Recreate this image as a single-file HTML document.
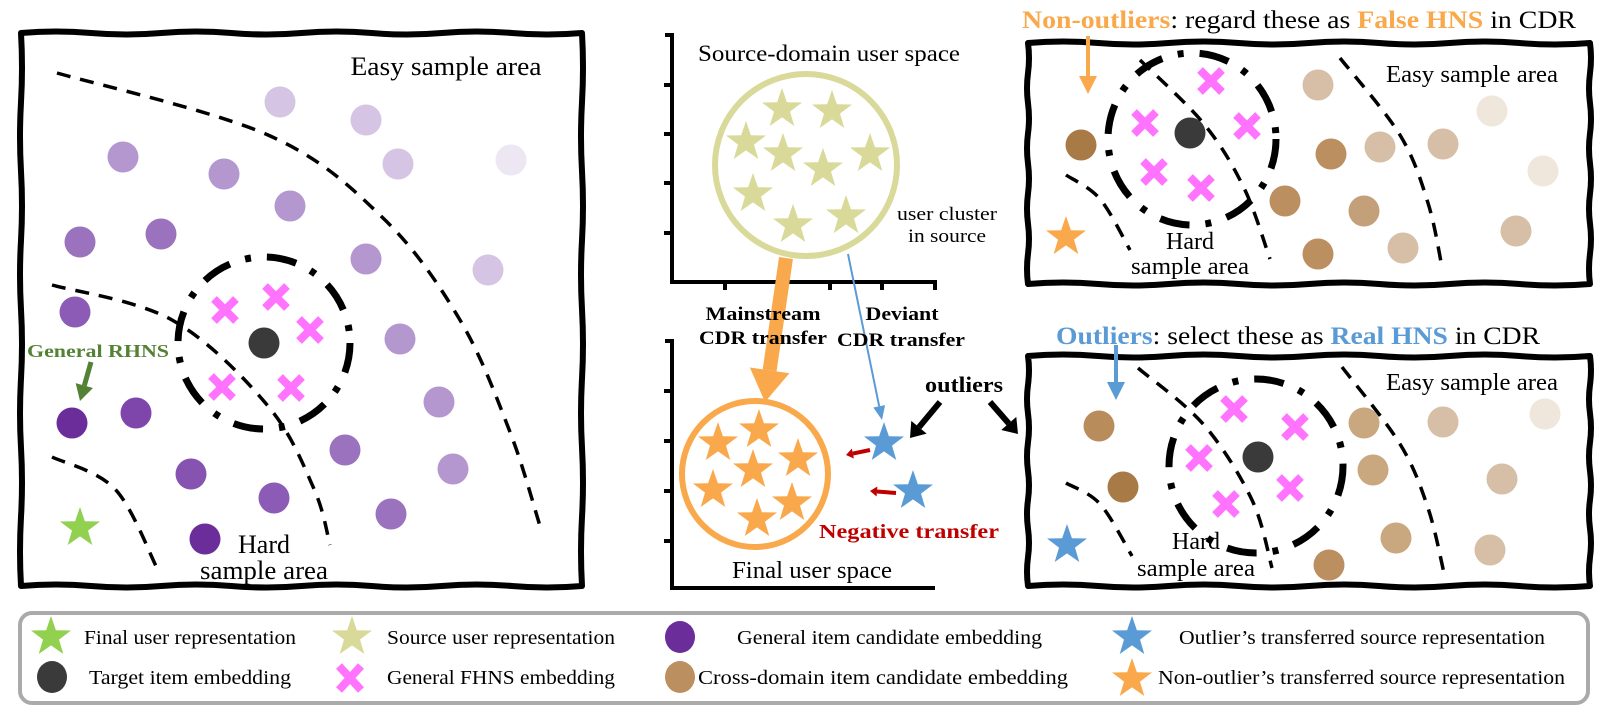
<!DOCTYPE html>
<html><head><meta charset="utf-8"><style>
html,body{margin:0;padding:0;background:#fff;}
svg, svg text{font-family:"Liberation Serif","Times New Roman",serif;}
</style></head><body>
<svg id="fig" width="1606" height="709" viewBox="0 0 1606 709" xmlns="http://www.w3.org/2000/svg" font-family="Liberation Serif, serif">
<g id="layer"></g>
<g id="texts" fill="#000" font-family="Liberation Serif, serif">
<text x="446" y="75" font-size="26" text-anchor="middle" textLength="191" lengthAdjust="spacingAndGlyphs">Easy sample area</text>
<text x="264" y="553" font-size="26" text-anchor="middle">Hard</text>
<text x="264" y="579" font-size="26" text-anchor="middle" textLength="128" lengthAdjust="spacingAndGlyphs">sample area</text>
<text x="27" y="357" font-size="18" font-weight="bold" fill="#548235" textLength="142" lengthAdjust="spacingAndGlyphs">General RHNS</text>

<text x="829" y="61" font-size="23" text-anchor="middle" textLength="262" lengthAdjust="spacingAndGlyphs">Source-domain user space</text>
<text x="947" y="220" font-size="19" text-anchor="middle" textLength="100" lengthAdjust="spacingAndGlyphs">user cluster</text>
<text x="947" y="242" font-size="19" text-anchor="middle" textLength="78" lengthAdjust="spacingAndGlyphs">in source</text>
<text x="763" y="320" font-size="19" font-weight="bold" text-anchor="middle" textLength="115" lengthAdjust="spacingAndGlyphs">Mainstream</text>
<text x="763" y="344" font-size="19" font-weight="bold" text-anchor="middle" textLength="128" lengthAdjust="spacingAndGlyphs">CDR transfer</text>
<text x="902" y="320" font-size="19" font-weight="bold" text-anchor="middle" textLength="73" lengthAdjust="spacingAndGlyphs">Deviant</text>
<text x="901" y="346" font-size="19" font-weight="bold" text-anchor="middle" textLength="128" lengthAdjust="spacingAndGlyphs">CDR transfer</text>
<text x="812" y="578" font-size="24" text-anchor="middle" textLength="160" lengthAdjust="spacingAndGlyphs">Final user space</text>
<text x="819" y="538" font-size="20" font-weight="bold" fill="#c00000" textLength="180" lengthAdjust="spacingAndGlyphs">Negative transfer</text>
<text x="925" y="392" font-size="22" font-weight="bold" textLength="78" lengthAdjust="spacingAndGlyphs">outliers</text>

<text x="1022" y="28" font-size="25" textLength="554" lengthAdjust="spacingAndGlyphs"><tspan fill="#f9a94b" font-weight="bold">Non-outliers</tspan>: regard these as <tspan fill="#f9a94b" font-weight="bold">False HNS</tspan> in CDR</text>
<text x="1472" y="82" font-size="24" text-anchor="middle" textLength="172" lengthAdjust="spacingAndGlyphs">Easy sample area</text>
<text x="1190" y="249" font-size="24" text-anchor="middle">Hard</text>
<text x="1190" y="274" font-size="24" text-anchor="middle" textLength="118" lengthAdjust="spacingAndGlyphs">sample area</text>

<text x="1056" y="344" font-size="25" textLength="484" lengthAdjust="spacingAndGlyphs"><tspan fill="#5b9bd5" font-weight="bold">Outliers</tspan>: select these as <tspan fill="#5b9bd5" font-weight="bold">Real HNS</tspan> in CDR</text>
<text x="1472" y="390" font-size="24" text-anchor="middle" textLength="172" lengthAdjust="spacingAndGlyphs">Easy sample area</text>
<text x="1196" y="549" font-size="24" text-anchor="middle">Hard</text>
<text x="1196" y="576" font-size="24" text-anchor="middle" textLength="118" lengthAdjust="spacingAndGlyphs">sample area</text>

<g font-size="20">
<text x="84" y="644" textLength="212" lengthAdjust="spacingAndGlyphs">Final user representation</text>
<text x="387" y="644" textLength="228" lengthAdjust="spacingAndGlyphs">Source user representation</text>
<text x="737" y="644" textLength="305" lengthAdjust="spacingAndGlyphs">General item candidate embedding</text>
<text x="1179" y="644" textLength="366" lengthAdjust="spacingAndGlyphs">Outlier’s transferred source representation</text>
<text x="89" y="684" textLength="202" lengthAdjust="spacingAndGlyphs">Target item embedding</text>
<text x="387" y="684" textLength="228" lengthAdjust="spacingAndGlyphs">General FHNS embedding</text>
<text x="698" y="684" textLength="370" lengthAdjust="spacingAndGlyphs">Cross-domain item candidate embedding</text>
<text x="1158" y="684" textLength="407" lengthAdjust="spacingAndGlyphs">Non-outlier’s transferred source representation</text>
</g>
</g>
</svg>
<script>
const leftCircles = [[280,102,'#d5c4e3'],[366,120,'#d5c4e3'],[123,157,'#b497cf'],[224,174,'#b497cf'],[398,164,'#d5c4e3'],[511,160,'#ede6f3'],[290,206,'#b497cf'],[80,242,'#9b72bd'],[161,234,'#9b72bd'],[366,259,'#b497cf'],[488,270,'#d5c4e3'],[75,312,'#8c5bb5'],[400,339,'#b497cf'],[72,423,'#6a2d9a'],[136,413,'#7e46aa'],[439,402,'#b497cf'],[345,450,'#9b72bd'],[453,469,'#b497cf'],[191,474,'#8653b0'],[274,498,'#8c5bb5'],[391,514,'#9b72bd'],[205,539,'#6a2d9a']];
const leftX = [[225,310],[276,297],[310,330],[222,387],[291,388]];
const trCircles = [[1318,85,'#d6bfa6'],[1492,111,'#efe6dc'],[1380,147,'#d6bfa6'],[1443,144,'#d6bfa6'],[1543,171,'#efe6dc'],[1331,154,'#bb8f60'],[1285,201,'#bb8f60'],[1364,211,'#c4a07a'],[1318,254,'#bb8f60'],[1403,248,'#d6bfa6'],[1516,231,'#d6bfa6'],[1081,145,'#a87a45']];
const trX = [[1211,81],[1145,123],[1247,126],[1154,172],[1201,188]];
const brCircles = [[1099,426,'#b98c5c'],[1123,487,'#a87a45'],[1364,423,'#c9a880'],[1443,422,'#d6bfa6'],[1545,414,'#efe6dc'],[1373,470,'#c9a880'],[1502,479,'#d6bfa6'],[1396,538,'#c9a880'],[1490,550,'#d6bfa6'],[1329,565,'#bb8f60']];
const brX = [[1234,409],[1295,427],[1199,458],[1290,488],[1226,504]];
const sourceStars = [[782,109],[832,111],[746,142],[783,154],[870,154],[823,169],[753,194],[846,216],[793,225]];
const finalStars = [[759,430],[718,443],[798,459],[753,470],[713,490],[792,503],[757,519]];
const outlierStars = [[884,443],[913,491]];

const NS='http://www.w3.org/2000/svg';
const layer=document.getElementById('layer');
function mk(tag,attrs,name,parent){const e=document.createElementNS(NS,tag);for(const k in attrs)e.setAttribute(k,attrs[k]);


(parent||layer).appendChild(e);return e;}
function starPath(cx,cy,R){let d='';for(let i=0;i<10;i++){const r=i%2?R*0.4:R;const a=-Math.PI/2+i*Math.PI/5;d+=(i?'L':'M')+(cx+r*Math.cos(a)).toFixed(1)+','+(cy+r*Math.sin(a)).toFixed(1);}return d+'Z';}
function smooth(p){let d='M'+p[0][0]+','+p[0][1];for(let i=0;i<p.length-1;i++){const p0=p[i-1]||p[i],p1=p[i],p2=p[i+1],p3=p[i+2]||p2;
const c1=[p1[0]+(p2[0]-p0[0])/6,p1[1]+(p2[1]-p0[1])/6],c2=[p2[0]-(p3[0]-p1[0])/6,p2[1]-(p3[1]-p1[1])/6];
d+=' C'+c1[0]+','+c1[1]+' '+c2[0]+','+c2[1]+' '+p2[0]+','+p2[1];}return d;}
function wavy(x1,y1,x2,y2){let d='M'+x1+','+y1;const n=8;
for(let i=1;i<=n;i++){const x=x1+(x2-x1)*i/n;d+=' Q'+(x-(x2-x1)/n/2)+','+(y1+(i%2?-3:3))+' '+x+','+y1;}
for(let i=1;i<=n;i++){const y=y1+(y2-y1)*i/n;d+=' Q'+(x2+(i%2?2:-2))+','+(y-(y2-y1)/n/2)+' '+x2+','+y;}
for(let i=1;i<=n;i++){const x=x2-(x2-x1)*i/n;d+=' Q'+(x+(x2-x1)/n/2)+','+(y2+(i%2?3:-3))+' '+x+','+y2;}
for(let i=1;i<=n;i++){const y=y2-(y2-y1)*i/n;d+=' Q'+(x1+(i%2?-2:2))+','+(y+(y2-y1)/n/2)+' '+x1+','+y;}
return d+'Z';}
function panel(x1,y1,x2,y2,name){mk('path',{d:wavy(x1,y1,x2,y2),fill:'none',stroke:'#000','stroke-width':6,'stroke-linejoin':'round'},name);}
function dashed(pts,name){mk('path',{d:smooth(pts),fill:'none',stroke:'#000','stroke-width':3.5,'stroke-dasharray':'14 10'},name);}
function dashdot(cx,cy,rx,ry,name){mk('ellipse',{cx,cy,rx,ry,fill:'none',stroke:'#000','stroke-width':7,'stroke-dasharray':'30 16 6 16'},name);}
function circles(arr,name){arr.forEach(c=>mk('circle',{cx:c[0],cy:c[1],r:15.5,fill:c[2]},name));}
function crosses(arr,name){arr.forEach(c=>{const g=mk('g',{},name);
mk('path',{d:`M${c[0]-11},${c[1]-11}L${c[0]+11},${c[1]+11}M${c[0]+11},${c[1]-11}L${c[0]-11},${c[1]+11}`,stroke:'#ff73ff','stroke-width':8},'fhns-cross-stroke',g);});}
function arrow(x1,y1,x2,y2,color,w,hl,hw,name){const a=Math.atan2(y2-y1,x2-x1);const bx=x2-hl*Math.cos(a),by=y2-hl*Math.sin(a);
const g=mk('g',{},name);
mk('line',{x1,y1,x2:bx,y2:by,stroke:color,'stroke-width':w},'arrow-shaft',g);
mk('path',{d:`M${x2},${y2}L${bx+hw*Math.sin(a)},${by-hw*Math.cos(a)}L${bx-hw*Math.sin(a)},${by+hw*Math.cos(a)}Z`,fill:color},'arrow-head',g);}

panel(21,33,582,586,'left-panel-border');
dashed([[57,73],[268,135],[383,218],[460,320],[510,432],[540,526]],'left-outer-boundary');
dashed([[52,285],[172,320],[268,406],[314,489],[330,545]],'left-middle-boundary');
dashed([[52,457],[115,489],[157,568]],'left-inner-boundary');
circles(leftCircles,'general-item-circle');
dashdot(264,343,86,86,'left-hard-negative-ring');
mk('circle',{cx:264,cy:343,r:15.5,fill:'#3a3a3a'},'left-target-item');
crosses(leftX,'left-fhns-cross');
mk('path',{d:starPath(80,528,21),fill:'#92d050'},'left-final-user-star');
arrow(91,362,80,401,'#548235',5,16,9,'general-rhns-arrow');

const ax=mk('g',{stroke:'#000','stroke-width':4,fill:'none'},'source-axes');
mk('path',{d:'M665,35H672V282H935V290'},'source-axis-line',ax);
[85,134,183,233].forEach(y=>mk('line',{x1:664,y1:y,x2:672,y2:y},'source-y-tick',ax));
[725,830,882].forEach(x=>mk('line',{x1:x,y1:282,x2:x,y2:290},'source-x-tick',ax));
const bx=mk('g',{stroke:'#000','stroke-width':4,fill:'none'},'final-axes');
mk('path',{d:'M665,341H672V588H935'},'final-axis-line',bx);
[391,441,491,541].forEach(y=>mk('line',{x1:664,y1:y,x2:672,y2:y},'final-y-tick',bx));
mk('ellipse',{cx:806,cy:165,rx:91,ry:91,fill:'none',stroke:'#d9d99a','stroke-width':6},'source-user-cluster');
sourceStars.forEach(s=>mk('path',{d:starPath(s[0],s[1],21),fill:'#d9d99a'},'source-user-star'));
mk('ellipse',{cx:755,cy:474,rx:73,ry:73,fill:'none',stroke:'#f9a94b','stroke-width':6},'final-user-cluster');
finalStars.forEach(s=>mk('path',{d:starPath(s[0],s[1],21),fill:'#f9a94b'},'non-outlier-star'));
outlierStars.forEach(s=>mk('path',{d:starPath(s[0],s[1],21),fill:'#5b9bd5'},'outlier-star'));
arrow(786,258,765,402,'#f9a94b',14,32,20,'mainstream-transfer-arrow');
arrow(848,254,882,420,'#5b9bd5',2,14,6,'deviant-transfer-arrow');
arrow(870,450,846,455,'#c00000',4,7,5,'negative-transfer-arrow-1');
arrow(896,493,870,491,'#c00000',4,7,5,'negative-transfer-arrow-2');
arrow(940,402,910,438,'#000',6,14,10,'outlier-pointer-left');
arrow(990,402,1018,434,'#000',6,14,10,'outlier-pointer-right');

panel(1028,43,1590,284,'top-right-panel-border');
dashed([[1066,175],[1100,199],[1130,250]],'tr-inner-boundary');
dashed([[1140,60],[1204,124],[1244,188],[1270,259]],'tr-middle-boundary');
dashed([[1340,58],[1400,135],[1428,203],[1442,267]],'tr-outer-boundary');
circles(trCircles,'cross-domain-item-circle');
dashdot(1192,139,84,86,'tr-hard-negative-ring');
mk('circle',{cx:1190,cy:133,r:15.5,fill:'#3a3a3a'},'tr-target-item');
crosses(trX,'tr-fhns-cross');
mk('path',{d:starPath(1066,237,21),fill:'#f9a94b'},'tr-non-outlier-star');
arrow(1088,36,1088,94,'#f9a94b',4,18,9,'non-outliers-arrow');

panel(1028,356,1590,586,'bottom-right-panel-border');
dashed([[1066,483],[1100,504],[1132,556]],'br-inner-boundary');
dashed([[1138,368],[1204,425],[1252,500],[1272,568]],'br-middle-boundary');
dashed([[1342,367],[1400,444],[1428,508],[1444,573]],'br-outer-boundary');
circles(brCircles,'cross-domain-item-circle');
dashdot(1256,466,87,87,'br-hard-negative-ring');
mk('circle',{cx:1258,cy:457,r:15.5,fill:'#3a3a3a'},'br-target-item');
crosses(brX,'br-fhns-cross');
mk('path',{d:starPath(1067,545,21),fill:'#5b9bd5'},'br-outlier-star');
arrow(1116,345,1116,400,'#5b9bd5',4,18,9,'outliers-arrow');

mk('rect',{x:20,y:613,width:1568,height:90,rx:12,fill:'none',stroke:'#aaaaaa','stroke-width':4},'legend-box');
mk('path',{d:starPath(51,637,21),fill:'#92d050'},'legend-final-user-icon');
mk('path',{d:starPath(352,637,21),fill:'#d9d99a'},'legend-source-user-icon');
mk('ellipse',{cx:680,cy:637,rx:15,ry:16,fill:'#6a2d9a'},'legend-general-item-icon');
mk('path',{d:starPath(1132,637,21),fill:'#5b9bd5'},'legend-outlier-icon');
mk('ellipse',{cx:52,cy:677,rx:15,ry:16,fill:'#3a3a3a'},'legend-target-item-icon');
const lg=mk('g',{},'legend-fhns-icon');
mk('path',{d:'M339,666L361,690M361,666L339,690',stroke:'#ff73ff','stroke-width':8},'legend-fhns-stroke',lg);
mk('ellipse',{cx:680,cy:677,rx:15,ry:16,fill:'#bb8f60'},'legend-cross-domain-icon');
mk('path',{d:starPath(1132,679,21),fill:'#f9a94b'},'legend-non-outlier-icon');
</script>
</body></html>
